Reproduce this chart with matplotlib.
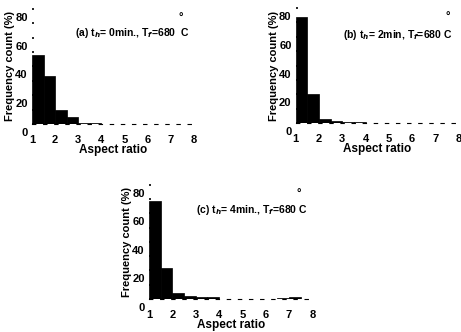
import numpy as np
import matplotlib
matplotlib.use('Agg')
import matplotlib.pyplot as plt
from matplotlib.transforms import ScaledTranslation

plt.rcParams['font.family'] = ['Liberation Sans', 'DejaVu Sans']
plt.rcParams['font.weight'] = 'bold'

# histogram bins of aspect ratio (left edges, width 0.5)
bin_edges = [1.0, 1.5, 2.0, 2.5, 3.0, 3.5, 4.0, 4.5, 5.0, 5.5, 6.0, 6.5, 7.0, 7.5]
freq_a = [48.0, 33.5, 9.7, 4.9, 1.0, 0.4, 0.3, 0, 0, 0, 0, 0, 0, 0]
freq_b = [73.6, 20.0, 3.0, 1.8, 0.7, 0.7, 0, 0, 0, 0, 0, 0, 0, 0]
freq_c = [68.5, 22.0, 4.0, 2.0, 1.5, 1.5, 0, 0, 0, 0, 0, 0.4, 1.5, 0]

titles = ['(a) t$_h$= 0min., T$_f$=680  C',
          '(b) t$_h$= 2min, T$_f$=680 C',
          '(c) t$_h$= 4min., T$_f$=680 C']
xticks = [1, 2, 3, 4, 5, 6, 7, 8]
yticks = [0, 20, 40, 60, 80]

# axes rects in figure fraction
rects = [[0.0694, 0.6265, 0.3516, 0.3465],
         [0.6414, 0.6286, 0.3536, 0.3474],
         [0.3232, 0.0994, 0.3542, 0.3434]]
text_pos = [(0.975, 0.79), (0.963, 0.766), (0.974, 0.78)]
deg_pos = [(0.92, 0.92), (0.93, 0.92), (0.92, 0.92)]

fig = plt.figure(figsize=(4.61, 3.32), dpi=100)

for rect, freq, title, tp, dp in zip(rects, [freq_a, freq_b, freq_c], titles, text_pos, deg_pos):
    ax = fig.add_axes(rect)
    ax.bar(bin_edges, freq, width=0.5, align='edge', color='black', edgecolor='black', linewidth=0.5)
    ax.set_xlim(1, 8)
    ax.set_ylim(0, 80)
    ax.set_xticks(xticks)
    ax.set_yticks(yticks)
    ax.set_yticks(np.arange(0, 81, 10), minor=True)
    for s in ['top', 'right', 'left']:
        ax.spines[s].set_visible(False)
    ax.spines['bottom'].set_linestyle((0, (3, 7)))
    ax.spines['bottom'].set_linewidth(0.8)
    ax.tick_params(axis='x', length=0, pad=8, labelsize=8)
    ax.tick_params(axis='y', which='both', length=1.5, width=1.2, direction='in', pad=3, labelsize=8)
    # labels sit half a step low in the scan
    off = ScaledTranslation(0, -8 / 100, fig.dpi_scale_trans)
    for lab in ax.get_yticklabels():
        lab.set_transform(lab.get_transform() + off)
    ax.set_xlabel('Aspect ratio', fontsize=8.5, fontweight='bold', labelpad=-1)
    ax.set_ylabel('Frequency count (%)', fontsize=8, fontweight='bold', labelpad=0)
    ax.text(tp[0], tp[1], title, transform=ax.transAxes, ha='right', va='center',
            fontsize=7.5, fontweight='bold')
    ax.text(dp[0], dp[1], '°', transform=ax.transAxes, ha='center', va='center', fontsize=8)

fig.savefig('out.png', dpi=100)
